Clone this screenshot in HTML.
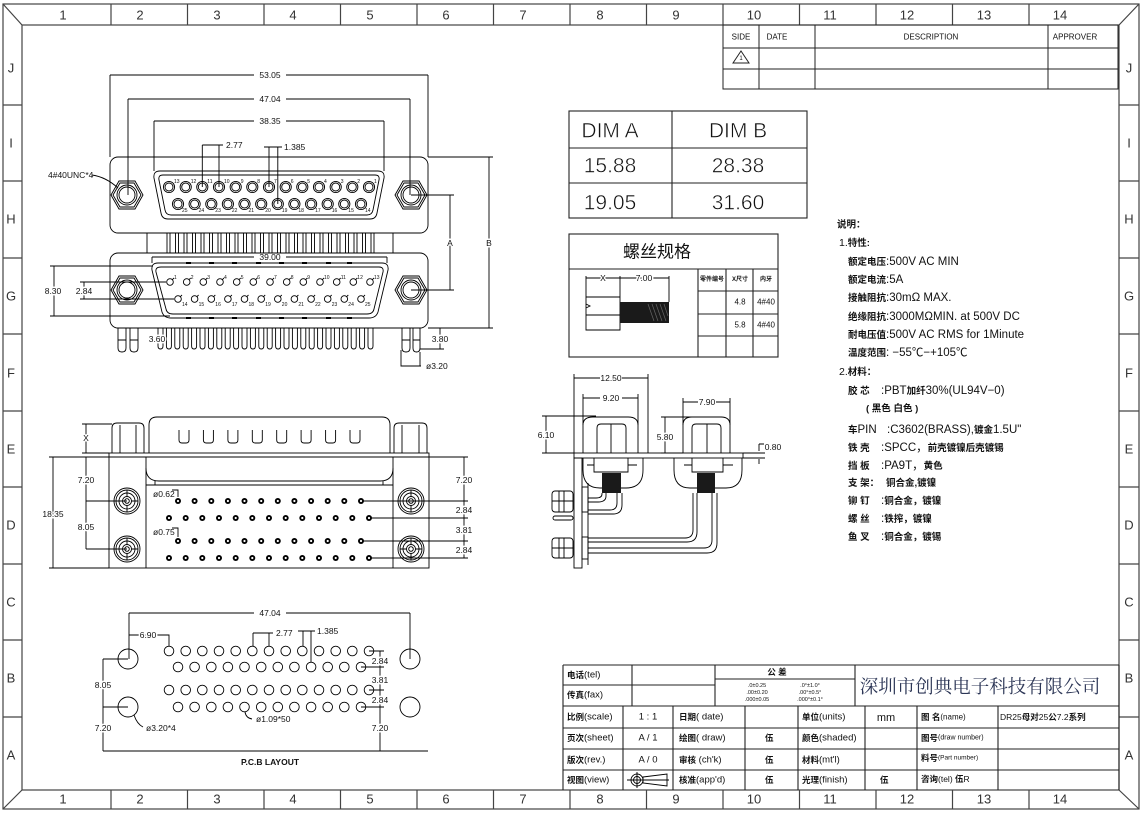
<!DOCTYPE html>
<html><head><meta charset="utf-8"><style>
html,body{margin:0;padding:0;background:#fff;}
svg{display:block;}
text{font-family:"Liberation Sans","Noto Sans CJK SC",sans-serif;fill:#111;}
.fr{font-size:13px;fill:#333;}
.d{font-size:8.5px;}
.k{paint-order:stroke;stroke:#fff;stroke-width:3px;stroke-linejoin:round;}
.pn{font-size:5px;}
.cj{font-family:"Liberation Sans","Noto Sans CJK SC",sans-serif;font-weight:bold;}
.sp{font-size:11.5px;}
.sl{font-size:9.5px;font-weight:bold;}
.tb{font-size:9.5px;}
.tl{font-size:8.5px;font-weight:bold;}
.thin{stroke:#fff;stroke-width:0.5px;}
</style></head><body>
<svg width="1144" height="817" viewBox="0 0 1144 817" xmlns="http://www.w3.org/2000/svg">
<defs>
<g id="pu" fill="none" stroke="#000" stroke-width="0.9"><circle r="5.6"/><circle r="4"/></g>
<g id="pl" fill="none" stroke="#000" stroke-width="0.9"><circle r="3.3"/><path d="M2.3,-2.3 L4,-4"/></g>
<g id="dt"><circle r="3" fill="#000"/><circle r="1.1" fill="#fff"/></g>
<g id="ph" fill="none" stroke="#000" stroke-width="0.9"><circle r="4.8"/></g>
<g id="hx" fill="none" stroke="#000" stroke-width="0.9"><polygon points="-16,0 -8,-14 8,-14 16,0 8,14 -8,14"/><polygon points="-14,0 -7,-12 7,-12 14,0 7,12 -7,12"/><circle r="10"/><circle r="8"/></g>
<g id="sc" fill="none" stroke="#000" stroke-width="0.9"><circle r="13"/><circle r="11"/><circle r="8"/><circle r="4.5"/><circle r="2.3"/><path d="M-11,0H-4.5M4.5,0H11M0,-11V-4.5M0,4.5V11"/></g>
</defs>

<!-- FRAME -->
<g fill="none" stroke="#444" stroke-width="1.2">
<rect x="3" y="4" width="1136" height="805"/>
<rect x="22" y="25" width="1097" height="765"/>
<path d="M3,4L22,25M1139,4L1119,25M3,809L22,790M1139,809L1119,790"/>
<path d="M111,4V25M187.5,4V25M264,4V25M340.5,4V25M417,4V25M493.5,4V25M570,4V25M646.5,4V25M723,4V25M799.5,4V25M876,4V25M952.5,4V25M1029,4V25"/>
<path d="M111,790V809M187.5,790V809M264,790V809M340.5,790V809M417,790V809M493.5,790V809M570,790V809M646.5,790V809M723,790V809M799.5,790V809M876,790V809M952.5,790V809M1029,790V809"/>
<path d="M3,105H22M3,181H22M3,258H22M3,334H22M3,411H22M3,487H22M3,564H22M3,640H22M3,717H22"/>
<path d="M1119,105H1139M1119,181H1139M1119,258H1139M1119,334H1139M1119,411H1139M1119,487H1139M1119,564H1139M1119,640H1139M1119,717H1139"/>
</g>
<g class="fr" text-anchor="middle" dominant-baseline="central">
<text x="63" y="15" class="fr">1</text><text x="140" y="15" class="fr">2</text><text x="217" y="15" class="fr">3</text><text x="293" y="15" class="fr">4</text><text x="370" y="15" class="fr">5</text><text x="446" y="15" class="fr">6</text><text x="523" y="15" class="fr">7</text><text x="600" y="15" class="fr">8</text><text x="676" y="15" class="fr">9</text><text x="754" y="15" class="fr">10</text><text x="830" y="15" class="fr">11</text><text x="907" y="15" class="fr">12</text><text x="984" y="15" class="fr">13</text><text x="1060" y="15" class="fr">14</text>
<text x="63" y="799" class="fr">1</text><text x="140" y="799" class="fr">2</text><text x="217" y="799" class="fr">3</text><text x="293" y="799" class="fr">4</text><text x="370" y="799" class="fr">5</text><text x="446" y="799" class="fr">6</text><text x="523" y="799" class="fr">7</text><text x="600" y="799" class="fr">8</text><text x="676" y="799" class="fr">9</text><text x="754" y="799" class="fr">10</text><text x="830" y="799" class="fr">11</text><text x="907" y="799" class="fr">12</text><text x="984" y="799" class="fr">13</text><text x="1060" y="799" class="fr">14</text>
<text x="11" y="68" class="fr">J</text><text x="11" y="143" class="fr">I</text><text x="11" y="219" class="fr">H</text><text x="11" y="296" class="fr">G</text><text x="11" y="373" class="fr">F</text><text x="11" y="449" class="fr">E</text><text x="11" y="525" class="fr">D</text><text x="11" y="602" class="fr">C</text><text x="11" y="678" class="fr">B</text><text x="11" y="755" class="fr">A</text>
<text x="1129" y="68" class="fr">J</text><text x="1129" y="143" class="fr">I</text><text x="1129" y="219" class="fr">H</text><text x="1129" y="296" class="fr">G</text><text x="1129" y="373" class="fr">F</text><text x="1129" y="449" class="fr">E</text><text x="1129" y="525" class="fr">D</text><text x="1129" y="602" class="fr">C</text><text x="1129" y="678" class="fr">B</text><text x="1129" y="755" class="fr">A</text>
</g>

<!-- REVISION TABLE -->
<g fill="none" stroke="#222" stroke-width="1">
<rect x="723" y="25" width="395" height="64"/>
<path d="M723,48H1118M723,69H1118M759,25V89M815,25V89M1048,25V89"/>
<polygon points="733,63 741,51 749,63"/>
</g>
<g font-size="8px" text-anchor="middle" dominant-baseline="central">
<text x="741" y="37">SIDE</text><text x="777" y="37">DATE</text><text x="931" y="37">DESCRIPTION</text><text x="1075" y="37">APPROVER</text>
<text x="741" y="59" font-size="6px">1</text>
</g>

<!-- TOP VIEW CONNECTOR -->
<g fill="none" stroke="#000" stroke-width="0.9">
<path d="M110,75H254M286,75H428M128,99H254M286,99H410M154,121H254M286,121H384"/>
<path d="M110,75V157M428,75V157M128,99V195M410,99V195M154,121V171M384,121V171"/>
<path d="M202.3,145V187M219,145V187M202.3,145H223M269,147V187M277.8,147V204M264,147H282"/>
<rect x="110" y="157" width="318" height="76" rx="8"/>
<path d="M160,171H378Q385,171 384,178L377,213Q376,219 370,219H168Q162,219 161,213L154,178Q153,171 160,171Z"/>
<path d="M163,175H375Q380,175 379,180L373,210Q372,215 367,215H171Q166,215 165,210L159,180Q158,175 163,175Z"/>
<rect x="147" y="233" width="246" height="20"/>
<path d="M167,233V253M175.5,233V253M184,233V253M192.5,233V253M201,233V253M209.5,233V253M218,233V253M226.5,233V253M235,233V253M243.5,233V253M252,233V253M260.5,233V253M269,233V253M277.5,233V253M286,233V253M294.5,233V253M303,233V253M311.5,233V253M320,233V253M328.5,233V253M337,233V253M345.5,233V253M354,233V253M362.5,233V253M371,233V253"/>
<path d="M170,233V253M178.5,233V253M187,233V253M195.5,233V253M204,233V253M212.5,233V253M221,233V253M229.5,233V253M238,233V253M246.5,233V253M255,233V253M263.5,233V253M272,233V253M280.5,233V253M289,233V253M297.5,233V253M306,233V253M314.5,233V253M323,233V253M331.5,233V253M340,233V253M348.5,233V253M357,233V253M365.5,233V253M374,233V253"/>
<rect x="110" y="253" width="318" height="75" rx="8"/>
<path d="M158,263H382Q389,263 388,270L378,312Q376,318 369,318H171Q164,318 162,312L152,270Q151,263 158,263Z"/>
<path d="M161,267H379Q384,267 383,272L374,309Q373,314 367,314H173Q167,314 166,309L156,272Q155,267 161,267Z"/>
<path d="M152,257H254M286,257H387M152,257V263M387,257V263"/>
<path d="M54,266V316M50,266H153M50,316H170M84,282V299M80,282H166M80,299H174"/>
<path d="M450,195V290M411,195H454M411,290H454M489,157V328M428,157H493M428,328H493"/>
<path d="M158,328V346Q158,349 160.5,349Q163,349 163,346V328M166.4,328V346Q166.4,349 168.9,349Q171.4,349 171.4,346V328M174.8,328V346Q174.8,349 177.3,349Q179.8,349 179.8,346V328M183.2,328V346Q183.2,349 185.7,349Q188.2,349 188.2,346V328M191.6,328V346Q191.6,349 194.1,349Q196.6,349 196.6,346V328M200,328V346Q200,349 202.5,349Q205,349 205,346V328M208.4,328V346Q208.4,349 210.9,349Q213.4,349 213.4,346V328M216.8,328V346Q216.8,349 219.3,349Q221.8,349 221.8,346V328M225.2,328V346Q225.2,349 227.7,349Q230.2,349 230.2,346V328M233.6,328V346Q233.6,349 236.1,349Q238.6,349 238.6,346V328M242,328V346Q242,349 244.5,349Q247,349 247,346V328M250.4,328V346Q250.4,349 252.9,349Q255.4,349 255.4,346V328M258.8,328V346Q258.8,349 261.3,349Q263.8,349 263.8,346V328M267.2,328V346Q267.2,349 269.7,349Q272.2,349 272.2,346V328M275.6,328V346Q275.6,349 278.1,349Q280.6,349 280.6,346V328M284,328V346Q284,349 286.5,349Q289,349 289,346V328M292.4,328V346Q292.4,349 294.9,349Q297.4,349 297.4,346V328M300.8,328V346Q300.8,349 303.3,349Q305.8,349 305.8,346V328M309.2,328V346Q309.2,349 311.7,349Q314.2,349 314.2,346V328M317.6,328V346Q317.6,349 320.1,349Q322.6,349 322.6,346V328M326,328V346Q326,349 328.5,349Q331,349 331,346V328M334.4,328V346Q334.4,349 336.9,349Q339.4,349 339.4,346V328M342.8,328V346Q342.8,349 345.3,349Q347.8,349 347.8,346V328M351.2,328V346Q351.2,349 353.7,349Q356.2,349 356.2,346V328M359.6,328V346Q359.6,349 362.1,349Q364.6,349 364.6,346V328M368,328V346Q368,349 370.5,349Q373,349 373,346V328"/>
<path d="M118,328V348Q118,352 122,352Q126,352 126,348V328M130,328V348Q130,352 134,352Q138,352 138,348V328M118,340H126M130,340H138"/>
<path d="M402,328V348Q402,352 406,352Q410,352 410,348V328M413,328V348Q413,352 416.5,352Q420,352 420,348V328M402,340H410M413,340H420"/>
<path d="M440,328V349M420,349H444M401,350V366H421M420,352V366"/>
<path d="M92,175Q106,177 118,188"/>
</g>
<use href="#hx" x="127" y="195"/><use href="#hx" x="411" y="195"/><use href="#hx" x="127" y="290"/><use href="#hx" x="411" y="290"/>
<g fill="#000">
<rect x="186" y="262" width="5" height="2"/><rect x="209" y="262" width="5" height="2"/><rect x="232" y="262" width="5" height="2"/><rect x="256" y="262" width="5" height="2"/><rect x="279" y="262" width="5" height="2"/><rect x="302" y="262" width="5" height="2"/><rect x="326" y="262" width="5" height="2"/><rect x="347" y="262" width="5" height="2"/>
<rect x="186" y="317" width="5" height="2"/><rect x="209" y="317" width="5" height="2"/><rect x="232" y="317" width="5" height="2"/><rect x="256" y="317" width="5" height="2"/><rect x="279" y="317" width="5" height="2"/><rect x="302" y="317" width="5" height="2"/><rect x="326" y="317" width="5" height="2"/><rect x="347" y="317" width="5" height="2"/>
</g>
<use href="#pu" x="169" y="187"/><use href="#pu" x="185.7" y="187"/><use href="#pu" x="202.3" y="187"/><use href="#pu" x="219" y="187"/><use href="#pu" x="235.7" y="187"/><use href="#pu" x="252.3" y="187"/><use href="#pu" x="269" y="187"/><use href="#pu" x="285.7" y="187"/><use href="#pu" x="302.3" y="187"/><use href="#pu" x="319" y="187"/><use href="#pu" x="335.7" y="187"/><use href="#pu" x="352.3" y="187"/><use href="#pu" x="369" y="187"/>
<use href="#pu" x="178" y="204"/><use href="#pu" x="194.6" y="204"/><use href="#pu" x="211.3" y="204"/><use href="#pu" x="227.9" y="204"/><use href="#pu" x="244.5" y="204"/><use href="#pu" x="261.2" y="204"/><use href="#pu" x="277.8" y="204"/><use href="#pu" x="294.4" y="204"/><use href="#pu" x="311.1" y="204"/><use href="#pu" x="327.7" y="204"/><use href="#pu" x="344.3" y="204"/><use href="#pu" x="361" y="204"/>
<g class="pn">
<text x="174" y="183" class="pn">13</text><text x="190.7" y="183" class="pn">12</text><text x="207.3" y="183" class="pn">11</text><text x="224" y="183" class="pn">10</text><text x="240.7" y="183" class="pn">9</text><text x="257.3" y="183" class="pn">8</text><text x="274" y="183" class="pn">7</text><text x="290.7" y="183" class="pn">6</text><text x="307.3" y="183" class="pn">5</text><text x="324" y="183" class="pn">4</text><text x="340.7" y="183" class="pn">3</text><text x="357.3" y="183" class="pn">2</text><text x="374" y="183" class="pn">1</text>
<text x="182" y="212" class="pn">25</text><text x="198.6" y="212" class="pn">24</text><text x="215.3" y="212" class="pn">23</text><text x="231.9" y="212" class="pn">22</text><text x="248.5" y="212" class="pn">21</text><text x="265.2" y="212" class="pn">20</text><text x="281.8" y="212" class="pn">19</text><text x="298.4" y="212" class="pn">18</text><text x="315.1" y="212" class="pn">17</text><text x="331.7" y="212" class="pn">16</text><text x="348.3" y="212" class="pn">15</text><text x="365" y="212" class="pn">14</text>
</g>
<use href="#pl" x="170" y="282"/><use href="#pl" x="186.7" y="282"/><use href="#pl" x="203.3" y="282"/><use href="#pl" x="220" y="282"/><use href="#pl" x="236.7" y="282"/><use href="#pl" x="253.3" y="282"/><use href="#pl" x="270" y="282"/><use href="#pl" x="286.7" y="282"/><use href="#pl" x="303.3" y="282"/><use href="#pl" x="320" y="282"/><use href="#pl" x="336.7" y="282"/><use href="#pl" x="353.3" y="282"/><use href="#pl" x="370" y="282"/>
<use href="#pl" x="178" y="299"/><use href="#pl" x="194.6" y="299"/><use href="#pl" x="211.3" y="299"/><use href="#pl" x="227.9" y="299"/><use href="#pl" x="244.5" y="299"/><use href="#pl" x="261.2" y="299"/><use href="#pl" x="277.8" y="299"/><use href="#pl" x="294.4" y="299"/><use href="#pl" x="311.1" y="299"/><use href="#pl" x="327.7" y="299"/><use href="#pl" x="344.3" y="299"/><use href="#pl" x="361" y="299"/>
<g>
<text x="174" y="279" class="pn">1</text><text x="190.7" y="279" class="pn">2</text><text x="207.3" y="279" class="pn">3</text><text x="224" y="279" class="pn">4</text><text x="240.7" y="279" class="pn">5</text><text x="257.3" y="279" class="pn">6</text><text x="274" y="279" class="pn">7</text><text x="290.7" y="279" class="pn">8</text><text x="307.3" y="279" class="pn">9</text><text x="324" y="279" class="pn">10</text><text x="340.7" y="279" class="pn">11</text><text x="357.3" y="279" class="pn">12</text><text x="374" y="279" class="pn">13</text>
<text x="182" y="306" class="pn">14</text><text x="198.6" y="306" class="pn">15</text><text x="215.3" y="306" class="pn">16</text><text x="231.9" y="306" class="pn">17</text><text x="248.5" y="306" class="pn">18</text><text x="265.2" y="306" class="pn">19</text><text x="281.8" y="306" class="pn">20</text><text x="298.4" y="306" class="pn">21</text><text x="315.1" y="306" class="pn">22</text><text x="331.7" y="306" class="pn">23</text><text x="348.3" y="306" class="pn">24</text><text x="365" y="306" class="pn">25</text>
</g>
<g class="d" dominant-baseline="central">
<text x="270" y="75" text-anchor="middle" class="d">53.05</text>
<text x="270" y="99" text-anchor="middle" class="d">47.04</text>
<text x="270" y="121" text-anchor="middle" class="d">38.35</text>
<text x="226" y="145" class="d">2.77</text>
<text x="284" y="147" class="d">1.385</text>
<text x="270" y="257" text-anchor="middle" class="d">39.00</text>
<text x="48" y="175" class="d" font-size="7.5px">4#40UNC*4</text>
<text x="53" y="291" text-anchor="middle" class="d k">8.30</text>
<text x="84" y="291" text-anchor="middle" class="d k">2.84</text>
<text x="450" y="243" text-anchor="middle" class="d k">A</text>
<text x="489" y="243" text-anchor="middle" class="d k">B</text>
<text x="157" y="339" text-anchor="middle" class="d k">3.60</text>
<text x="440" y="339" text-anchor="middle" class="d k">3.80</text>
<text x="426" y="366" class="d">ø3.20</text>
</g>

<!-- DIM TABLE -->
<g fill="none" stroke="#222" stroke-width="1.1">
<rect x="569" y="111" width="238" height="107"/>
<path d="M672,111V218M569,148H807M569,183H807"/>
</g>
<g font-size="21px" text-anchor="middle" dominant-baseline="central" fill="#222">
<text x="610" y="131" class="thin">DIM A</text><text x="738" y="131" class="thin">DIM B</text>
<text x="610" y="166" class="thin">15.88</text><text x="738" y="166" class="thin">28.38</text>
<text x="610" y="203" class="thin">19.05</text><text x="738" y="203" class="thin">31.60</text>
</g>

<!-- SCREW TABLE -->
<g fill="none" stroke="#222" stroke-width="1.1">
<rect x="569" y="234" width="209" height="123"/>
<path d="M569,269H778M698,269V357M726,269V357M753,269V357M698,291H778M698,314H778M698,336H778"/>
</g>
<text x="657" y="252" font-size="17px" text-anchor="middle" dominant-baseline="central" class="cj" style="font-weight:normal">螺丝规格</text>
<g font-size="6px" class="cj" text-anchor="middle" dominant-baseline="central">
<text x="712" y="280">零件编号</text><text x="740" y="280">X尺寸</text><text x="766" y="280">内牙</text>
</g>
<g font-size="8px" text-anchor="middle" dominant-baseline="central">
<text x="740" y="302">4.8</text><text x="766" y="302">4#40</text>
<text x="740" y="325">5.8</text><text x="766" y="325">4#40</text>
</g>
<g fill="none" stroke="#000" stroke-width="0.9">
<path d="M586,276V330H620V276M586,278H620M620,278H669M669,276V302M586,297H620M586,315H620M586,304L590,306L586,308"/>
</g>
<rect x="620" y="302" width="49" height="21" fill="#1a1a1a"/>
<path d="M648,304l6,17M652,304l6,17M656,304l6,17M660,304l6,17M664,304l4,12" stroke="#666" stroke-width="0.7"/>
<text x="603" y="278" class="d k" text-anchor="middle" dominant-baseline="central">X</text>
<text x="644" y="278" class="d k" text-anchor="middle" dominant-baseline="central">7.00</text>

<!-- SPEC TEXT -->
<g dominant-baseline="central">
<text x="837" y="225" class="sl" font-size="9.5px">说明：</text>
<text x="839" y="243" font-size="10.5px"><tspan>1.</tspan><tspan class="sl" font-size="9.5px">特性:</tspan></text>
<text x="848" y="262" class="sp"><tspan class="sl">额定电压</tspan><tspan x="886">:500V AC MIN</tspan></text>
<text x="848" y="280" class="sp"><tspan class="sl">额定电流</tspan><tspan x="886">:5A</tspan></text>
<text x="848" y="298" class="sp"><tspan class="sl">接触阻抗</tspan><tspan x="886">:30mΩ MAX.</tspan></text>
<text x="848" y="317" class="sp"><tspan class="sl">绝缘阻抗</tspan><tspan x="886">:3000MΩMIN. at 500V DC</tspan></text>
<text x="848" y="335" class="sp"><tspan class="sl">耐电压值</tspan><tspan x="886">:500V AC RMS for 1Minute</tspan></text>
<text x="848" y="353" class="sp"><tspan class="sl">温度范围</tspan><tspan x="886">: −55℃−+105℃</tspan></text>
<text x="839" y="372" font-size="10.5px"><tspan>2.</tspan><tspan class="sl" font-size="9.5px">材料：</tspan></text>
<text x="848" y="391" class="sp"><tspan class="sl">胶 芯</tspan><tspan x="881">:PBT</tspan><tspan class="sl">加纤</tspan><tspan>30%(UL94V−0)</tspan></text>
<text x="866" y="409" class="sl">( 黑色 白色 )</text>
<text x="848" y="430" class="sp"><tspan class="sl">车</tspan><tspan>PIN</tspan><tspan x="887">:C3602(BRASS),</tspan><tspan class="sl">镀金</tspan><tspan>1.5U"</tspan></text>
<text x="848" y="448" class="sp"><tspan class="sl">铁 壳</tspan><tspan x="881">:SPCC，</tspan><tspan class="sl">前壳镀镍后壳镀锡</tspan></text>
<text x="848" y="466" class="sp"><tspan class="sl">挡 板</tspan><tspan x="881">:PA9T，</tspan><tspan class="sl">黄色</tspan></text>
<text x="848" y="483" class="sp"><tspan class="sl">支 架：</tspan><tspan x="886" class="sl">铜合金,镀镍</tspan></text>
<text x="848" y="501" class="sp"><tspan class="sl">铆 钉</tspan><tspan x="881">:</tspan><tspan class="sl">铜合金，镀镍</tspan></text>
<text x="848" y="519" class="sp"><tspan class="sl">螺 丝</tspan><tspan x="881">:</tspan><tspan class="sl">铁搾，镀镍</tspan></text>
<text x="848" y="537" class="sp"><tspan class="sl">鱼 叉</tspan><tspan x="881">:</tspan><tspan class="sl">铜合金，镀锡</tspan></text>
</g>

<!-- FRONT VIEW -->
<g fill="none" stroke="#000" stroke-width="0.9">
<path d="M149,453V425Q149,417 157,417H382Q390,417 390,425V453"/>
<path d="M179,430V440Q179,443 182,443H186Q189,443 189,440V430M203.4,430V440Q203.4,443 206.4,443H210.4Q213.4,443 213.4,440V430M227.9,430V440Q227.9,443 230.9,443H234.9Q237.9,443 237.9,440V430M252.3,430V440Q252.3,443 255.3,443H259.3Q262.3,443 262.3,440V430M276.7,430V440Q276.7,443 279.7,443H283.7Q286.7,443 286.7,440V430M301.1,430V440Q301.1,443 304.1,443H308.1Q311.1,443 311.1,440V430M325.6,430V440Q325.6,443 328.6,443H332.6Q335.6,443 335.6,440V430M350,430V440Q350,443 353,443H357Q360,443 360,440V430"/>
<path d="M112,453V428Q112,423 117,423H139Q144,423 144,428V453M120,425V453M136,425V453"/>
<path d="M394,453V428Q394,423 399,423H422Q427,423 427,428V453M402,425V453M419,425V453"/>
<rect x="109" y="453" width="320" height="4"/>
<rect x="109" y="457" width="320" height="111"/>
<path d="M146,457V568M393,457V568"/>
<path d="M146,468Q146,481 159,481H380Q393,481 393,468M146,485H393M155,481V485M383,481V485"/>
<path d="M86,424V453M82,424H112M82,453H109"/>
<path d="M53,457V568M49,457H109M49,568H109M86,457V549M86,501H127M86,549H127"/>
<path d="M464,457V558M429,457H468M361,501H468M370,518H468M361,541H468M370,558H468"/>
<path d="M172,490H178V497M172,528H178V537"/>
</g>
<use href="#sc" x="127" y="501"/><use href="#sc" x="127" y="549"/><use href="#sc" x="411" y="501"/><use href="#sc" x="411" y="549"/>
<use href="#dt" x="178" y="501"/><use href="#dt" x="194.6" y="501"/><use href="#dt" x="211.3" y="501"/><use href="#dt" x="227.9" y="501"/><use href="#dt" x="244.5" y="501"/><use href="#dt" x="261.2" y="501"/><use href="#dt" x="277.8" y="501"/><use href="#dt" x="294.4" y="501"/><use href="#dt" x="311.1" y="501"/><use href="#dt" x="327.7" y="501"/><use href="#dt" x="344.3" y="501"/><use href="#dt" x="361" y="501"/>
<use href="#dt" x="169" y="518"/><use href="#dt" x="185.7" y="518"/><use href="#dt" x="202.3" y="518"/><use href="#dt" x="219" y="518"/><use href="#dt" x="235.7" y="518"/><use href="#dt" x="252.3" y="518"/><use href="#dt" x="269" y="518"/><use href="#dt" x="285.7" y="518"/><use href="#dt" x="302.3" y="518"/><use href="#dt" x="319" y="518"/><use href="#dt" x="335.7" y="518"/><use href="#dt" x="352.3" y="518"/><use href="#dt" x="369" y="518"/>
<use href="#dt" x="178" y="541"/><use href="#dt" x="194.6" y="541"/><use href="#dt" x="211.3" y="541"/><use href="#dt" x="227.9" y="541"/><use href="#dt" x="244.5" y="541"/><use href="#dt" x="261.2" y="541"/><use href="#dt" x="277.8" y="541"/><use href="#dt" x="294.4" y="541"/><use href="#dt" x="311.1" y="541"/><use href="#dt" x="327.7" y="541"/><use href="#dt" x="344.3" y="541"/><use href="#dt" x="361" y="541"/>
<use href="#dt" x="169" y="558"/><use href="#dt" x="185.7" y="558"/><use href="#dt" x="202.3" y="558"/><use href="#dt" x="219" y="558"/><use href="#dt" x="235.7" y="558"/><use href="#dt" x="252.3" y="558"/><use href="#dt" x="269" y="558"/><use href="#dt" x="285.7" y="558"/><use href="#dt" x="302.3" y="558"/><use href="#dt" x="319" y="558"/><use href="#dt" x="335.7" y="558"/><use href="#dt" x="352.3" y="558"/><use href="#dt" x="369" y="558"/>
<g dominant-baseline="central">
<text x="86" y="438" text-anchor="middle" class="d k">X</text>
<text x="53" y="514" text-anchor="middle" class="d k">18.35</text>
<text x="86" y="480" text-anchor="middle" class="d k">7.20</text>
<text x="86" y="527" text-anchor="middle" class="d k">8.05</text>
<text x="464" y="480" text-anchor="middle" class="d k">7.20</text>
<text x="464" y="510" text-anchor="middle" class="d k">2.84</text>
<text x="464" y="530" text-anchor="middle" class="d k">3.81</text>
<text x="464" y="550" text-anchor="middle" class="d k">2.84</text>
<text x="153" y="494" class="d">ø0.62</text>
<text x="153" y="532" class="d">ø0.75</text>
</g>

<!-- SIDE VIEW -->
<g fill="none" stroke="#000" stroke-width="0.9">
<path d="M574,378H600M622,378H648M574,374V453M648,374V453"/>
<path d="M583,398H600M622,398H638M583,394V425M638,394V425"/>
<path d="M546,416V453M542,416H596M542,453H574"/>
<path d="M665,417V453M661,417H700M661,453H683"/>
<path d="M683,402H698M716,402H730M683,398V425M730,398V425"/>
<path d="M759,444V451M759,459V464M759,444H764M743,453H765M743,458H765"/>
<path d="M583,453V425Q583,417 593,417H628Q638,417 638,425V453"/>
<path d="M597,453V428Q597,424 601,424H622Q626,424 626,428V453M611,424V453"/>
<path d="M683,453V425Q683,417 692,417H721Q730,417 730,425V453"/>
<path d="M692,453V428Q692,424 696,424H717Q721,424 721,428V453M707,424V453"/>
<rect x="574" y="453" width="169" height="5"/>
<rect x="574" y="458" width="8" height="110"/>
<path d="M588,483V565"/>
<path d="M583,458V470Q583,488 600,488H626Q643,488 643,470V458"/>
<path d="M594,458V472H628V458M587,465H594M628,465H637"/>
<path d="M674,458V470Q674,488 690,488H726Q742,488 742,470V458"/>
<path d="M692,458V472H723V458M684,465H692M723,465H733"/>
<path d="M602,493V494Q602,498 596,498H588M606,493V496Q606,502 598,502H588"/>
<path d="M617,493V503Q617,510 610,510H588M622,493V505Q622,514 613,514H588"/>
<path d="M693,493V530Q693,538 685,538H588M697,493V532Q697,542 687,542H588"/>
<path d="M712,493V540Q712,548 704,548H588M717,493V543Q717,553 707,553H588"/>
<rect x="552" y="491" width="21" height="21" rx="3"/>
<path d="M552,501H573M559,491V512M564,491V512"/>
<rect x="553" y="516" width="20" height="4" rx="2"/>
<rect x="552" y="538" width="21" height="20" rx="3"/>
<path d="M552,548H573M559,538V558M564,538V558"/>
<rect x="582" y="487" width="6" height="25"/>
<rect x="582" y="537" width="6" height="22"/>
</g>
<rect x="602" y="473" width="19" height="20" fill="#1a1a1a"/>
<rect x="697" y="473" width="18" height="20" fill="#1a1a1a"/>
<g dominant-baseline="central" text-anchor="middle">
<text x="611" y="378" class="d">12.50</text>
<text x="611" y="398" class="d">9.20</text>
<text x="707" y="402" class="d">7.90</text>
<text x="546" y="435" class="d k">6.10</text>
<text x="665" y="437" class="d k">5.80</text>
<text x="773" y="447" class="d">0.80</text>
</g>

<!-- PCB LAYOUT -->
<g fill="none" stroke="#000" stroke-width="0.9">
<path d="M129,613H254M286,613H410M129,613V659M410,613V659"/>
<path d="M129,635H169V646"/>
<path d="M253,633V646M269,633V646M253,633H273M303,631V646M311,631V662M298,631H315"/>
<path d="M380,651V751M369,651H384M361,667H384M369,690H384M361,707H384"/>
<path d="M103,659V751M103,659H128M103,707H128M103,751H428"/>
<path d="M134,715Q137,724 143,727M245,712Q246,718 252,719"/>
<circle cx="128" cy="659" r="10"/><circle cx="128" cy="707" r="10"/><circle cx="410" cy="659" r="10"/><circle cx="410" cy="707" r="10"/>
</g>
<use href="#ph" x="169" y="651"/><use href="#ph" x="185.7" y="651"/><use href="#ph" x="202.3" y="651"/><use href="#ph" x="219" y="651"/><use href="#ph" x="235.7" y="651"/><use href="#ph" x="252.3" y="651"/><use href="#ph" x="269" y="651"/><use href="#ph" x="285.7" y="651"/><use href="#ph" x="302.3" y="651"/><use href="#ph" x="319" y="651"/><use href="#ph" x="335.7" y="651"/><use href="#ph" x="352.3" y="651"/><use href="#ph" x="369" y="651"/>
<use href="#ph" x="178" y="667"/><use href="#ph" x="194.6" y="667"/><use href="#ph" x="211.3" y="667"/><use href="#ph" x="227.9" y="667"/><use href="#ph" x="244.5" y="667"/><use href="#ph" x="261.2" y="667"/><use href="#ph" x="277.8" y="667"/><use href="#ph" x="294.4" y="667"/><use href="#ph" x="311.1" y="667"/><use href="#ph" x="327.7" y="667"/><use href="#ph" x="344.3" y="667"/><use href="#ph" x="361" y="667"/>
<use href="#ph" x="169" y="690"/><use href="#ph" x="185.7" y="690"/><use href="#ph" x="202.3" y="690"/><use href="#ph" x="219" y="690"/><use href="#ph" x="235.7" y="690"/><use href="#ph" x="252.3" y="690"/><use href="#ph" x="269" y="690"/><use href="#ph" x="285.7" y="690"/><use href="#ph" x="302.3" y="690"/><use href="#ph" x="319" y="690"/><use href="#ph" x="335.7" y="690"/><use href="#ph" x="352.3" y="690"/><use href="#ph" x="369" y="690"/>
<use href="#ph" x="178" y="707"/><use href="#ph" x="194.6" y="707"/><use href="#ph" x="211.3" y="707"/><use href="#ph" x="227.9" y="707"/><use href="#ph" x="244.5" y="707"/><use href="#ph" x="261.2" y="707"/><use href="#ph" x="277.8" y="707"/><use href="#ph" x="294.4" y="707"/><use href="#ph" x="311.1" y="707"/><use href="#ph" x="327.7" y="707"/><use href="#ph" x="344.3" y="707"/><use href="#ph" x="361" y="707"/>
<g dominant-baseline="central">
<text x="270" y="613" text-anchor="middle" class="d">47.04</text>
<text x="148" y="635" text-anchor="middle" class="d k">6.90</text>
<text x="276" y="633" class="d">2.77</text>
<text x="317" y="631" class="d">1.385</text>
<text x="380" y="661" text-anchor="middle" class="d k">2.84</text>
<text x="380" y="680" text-anchor="middle" class="d k">3.81</text>
<text x="380" y="700" text-anchor="middle" class="d k">2.84</text>
<text x="380" y="728" text-anchor="middle" class="d k">7.20</text>
<text x="103" y="685" text-anchor="middle" class="d k">8.05</text>
<text x="103" y="728" text-anchor="middle" class="d k">7.20</text>
<text x="146" y="728" class="d">ø3.20*4</text>
<text x="256" y="719" class="d">ø1.09*50</text>
<text x="270" y="762" text-anchor="middle" class="d" font-weight="bold" font-size="8px">P.C.B LAYOUT</text>
</g>

<!-- TITLE BLOCK -->
<g fill="none" stroke="#222" stroke-width="1.1">
<path d="M563,665H1119M563,665V790M855,665V706M1119,665V790"/>
<path d="M563,685H715M632,665V706M715,665V706M715,679H855"/>
<path d="M563,706H1119M563,728H1119M563,749H1119M563,770H1119"/>
<path d="M623,706V790M673,706V790M745,706V790M798,706V790M865,706V790M917,706V790M998,706V790"/>
</g>
<g dominant-baseline="central">
<text x="567" y="675" class="tb"><tspan class="tl">电话</tspan>(tel)</text>
<text x="567" y="695" class="tb"><tspan class="tl">传真</tspan>(fax)</text>
<text x="777" y="672" class="tl" text-anchor="middle">公 差</text>
<g font-size="5.5px" text-anchor="middle">
<text x="757" y="686">.0±0.25</text><text x="757" y="693">.00±0.20</text><text x="757" y="700">.000±0.05</text>
<text x="810" y="686">.0°±1.0°</text><text x="810" y="693">.00°±0.5°</text><text x="810" y="700">.000°±0.1°</text>
</g>
<text x="980" y="686" font-size="18.5px" text-anchor="middle" style="font-family:'Noto Serif CJK SC','Noto Sans CJK SC',serif;fill:#2c3656">深圳市创典电子科技有限公司</text>
<text x="567" y="717" class="tb"><tspan class="tl">比例</tspan>(scale)</text>
<text x="567" y="738" class="tb"><tspan class="tl">页次</tspan>(sheet)</text>
<text x="567" y="760" class="tb"><tspan class="tl">版次</tspan>(rev.)</text>
<text x="567" y="780" class="tb"><tspan class="tl">视图</tspan>(view)</text>
<text x="648" y="717" class="tb" text-anchor="middle">1 : 1</text>
<text x="648" y="738" class="tb" text-anchor="middle">A / 1</text>
<text x="648" y="760" class="tb" text-anchor="middle">A / 0</text>
<text x="679" y="717" class="tb"><tspan class="tl">日期</tspan>( date)</text>
<text x="679" y="738" class="tb"><tspan class="tl">绘图</tspan>( draw)</text>
<text x="679" y="760" class="tb"><tspan class="tl">审核</tspan> (ch'k)</text>
<text x="679" y="780" class="tb"><tspan class="tl">核准</tspan>(app'd)</text>
<text x="765" y="738" class="tl">伍</text>
<text x="765" y="760" class="tl">伍</text>
<text x="765" y="780" class="tl">伍</text>
<text x="802" y="717" class="tb"><tspan class="tl">单位</tspan>(units)</text>
<text x="802" y="738" class="tb"><tspan class="tl">颜色</tspan>(shaded)</text>
<text x="802" y="760" class="tb"><tspan class="tl">材料</tspan>(mt'l)</text>
<text x="802" y="780" class="tb"><tspan class="tl">光理</tspan>(finish)</text>
<text x="886" y="718" font-size="11px" text-anchor="middle">mm</text>
<text x="880" y="780" class="tl">伍</text>
<text x="921" y="717" font-size="8px"><tspan class="tl" font-size="7.5px">图 名</tspan>(name)</text>
<text x="921" y="738" font-size="7px"><tspan class="tl" font-size="7px">图号</tspan>(draw number)</text>
<text x="921" y="758" font-size="6.5px"><tspan class="tl" font-size="7px">料号</tspan>(Part number)</text>
<text x="921" y="779" font-size="8.5px"><tspan class="tl" font-size="7.5px">咨询</tspan>(tel) <tspan class="tl" font-size="7.5px">伍</tspan>R</text>
<text x="1000" y="717" font-size="8.5px">DR25<tspan class="tl" font-size="7px">母对</tspan>25<tspan class="tl" font-size="7px">公</tspan>7.2<tspan class="tl" font-size="7px">系列</tspan></text>
</g>
<g fill="none" stroke="#000" stroke-width="0.9">
<circle cx="637" cy="780" r="6"/><circle cx="637" cy="780" r="3.5"/>
<path d="M627,780H669M637,772V788M643,777L667,774V786L643,783Z"/>
</g>
</svg>
</body></html>
